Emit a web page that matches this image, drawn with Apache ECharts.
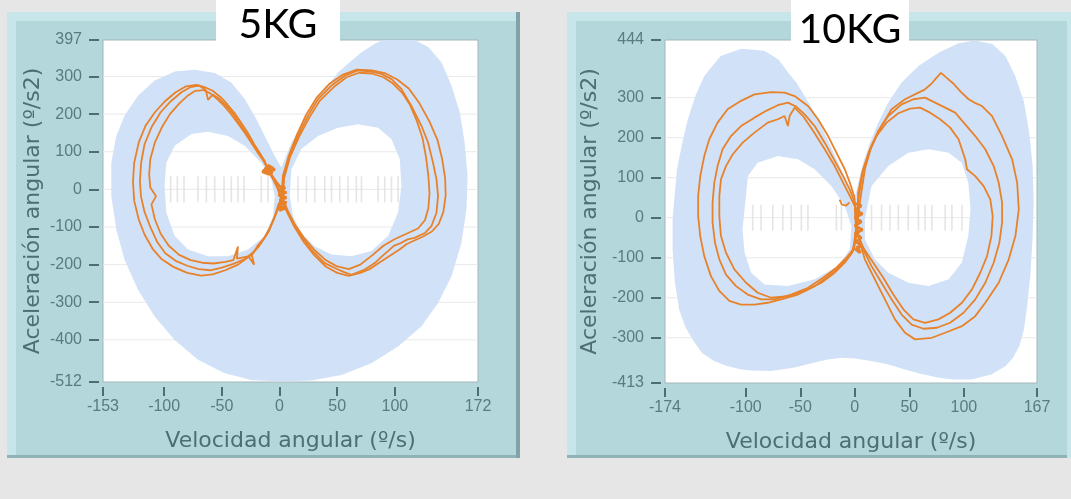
<!DOCTYPE html>
<html><head><meta charset="utf-8">
<script src="https://cdn.jsdelivr.net/npm/echarts@6/dist/echarts.min.js"></script>
<style>html,body{margin:0;padding:0;background:#e6e6e6;}#c{width:1071px;height:499px;}</style>
</head><body><div id="c"></div>
<script>
// ---------- ticks ----------
const kg5XTicks = [-153, -100, -50, 0, 50, 100, 172];
const kg5YTicks = [397, 300, 200, 100, 0, -100, -200, -300, -400, -512];
const kg10XTicks = [-174, -100, -50, 0, 50, 100, 167];
const kg10YTicks = [444, 300, 200, 100, 0, -100, -200, -300, -413];

// ---------- 5KG : reference band (outer contour + two holes) ----------
const kg5BandOuter = [[1.6,58],[4.5,80],[10.3,124],[16,151],[21.8,187],[30.5,231],[42,276],[50.7,311],[62.3,342],[70.9,364],[82.5,387],[89.7,397],[117,397],[128.8,378],[140.3,338],[149,276],[156.2,204],[160.5,124],[163,36],[162,-53],[157.7,-142],[149,-231],[137.4,-302],[123,-364],[102.7,-418],[79.6,-462],[53.6,-493],[27.6,-508],[1.6,-511],[-24.4,-507],[-47.5,-489],[-70.7,-453],[-90.9,-400],[-108.2,-338],[-122.7,-267],[-134.3,-187],[-141.5,-107],[-145.8,-18],[-145.8,71],[-141.5,142],[-134.3,196],[-122.7,249],[-108.2,289],[-90.9,313],[-73.6,318],[-56.2,309],[-41.8,284],[-30.2,240],[-20.1,187],[-11.4,133],[-4.2,89]];
const kg5HoleLeft = [[-99.6,9],[-98.1,71],[-90.9,116],[-76.4,147],[-62,153],[-44.7,142],[-30.2,116],[-15.8,71],[-7.1,27],[-4.2,-18],[-5.6,-71],[-12.9,-124],[-27.3,-160],[-44.7,-178],[-62,-178],[-79.3,-160],[-90.9,-124],[-98.1,-62]];
const kg5HoleRight = [[8.8,-18],[10.3,53],[18.9,107],[33.4,142],[50.7,164],[68,173],[85.4,164],[97,133],[104.2,80],[105.6,9],[102.7,-62],[94.1,-124],[79.6,-164],[62.3,-178],[45,-173],[30.5,-151],[18.9,-116],[11.7,-71]];
const kg5Ruler = [-94.4,-88.6,-82.8,-70.7,-63.4,-56.2,-48.1,-41.8,-36,-30.8,-15.8,-10,16,23.3,30.5,39.2,45,52.2,59.4,66.6,71,85.4,91.2,97,102.7];

// ---------- 5KG : measured trajectories ----------
const kg5TraceA = [[2,-28],[3,35],[8,90],[15,145],[23,198],[32,243],[43,280],[55,305],[67,318],[80,316],[92,308],[102,292],[112,268],[121,230],[130,180],[137,130],[141,80],[143.5,30],[144,-15],[142,-60],[138,-92],[132,-112],[124,-126],[114,-140],[110,-146],[104,-160],[95,-178],[86,-196],[78,-212],[70,-222],[60,-230],[50,-222],[40,-205],[30,-175],[21,-140],[13,-100],[6,-58],[2,-28],[0,-40],[-5,-80],[-11,-120],[-18,-152],[-26,-178],[-36,-200],[-47,-215],[-58,-226],[-68,-229],[-80,-222],[-92,-206],[-102,-186],[-110,-158],[-117,-120],[-122,-80],[-126,-30],[-127,20],[-126,70],[-122,125],[-116,170],[-108,205],[-99,235],[-90,258],[-81,274],[-72,278],[-65,272],[-58,262],[-51,245],[-45,225],[-39,203],[-33,176],[-27,148],[-22,120],[-17,96],[-13,74],[-10,52],[-5,25],[0,-5],[2,-28]];
const kg5TraceB = [[1.6,-27],[3,36],[8.8,89],[16,142],[24.7,196],[33.4,240],[45,276],[56.5,302],[68,316],[79.6,313],[88.3,307],[97,293],[105.6,267],[114.3,222],[123,169],[128.8,124],[133,71],[136,27],[137.4,-18],[136,-62],[131.6,-98],[125.9,-116],[117,-129],[111,-133],[105.6,-142],[99,-150],[94,-164],[88,-180],[82.5,-196],[73.8,-213],[62.3,-227],[56,-220],[50.7,-213],[39.2,-196],[27.6,-160],[18.9,-124],[11.7,-89],[5.9,-53],[1.6,-27],[-1,-40],[-4,-70],[-9,-110],[-16,-142],[-22,-165],[-30,-185],[-40,-198],[-50,-208],[-60,-215],[-70,-212],[-80,-203],[-90,-190],[-99,-170],[-106,-140],[-112,-100],[-117,-60],[-120,-20],[-121,20],[-120,70],[-117,120],[-111,165],[-103,205],[-94,235],[-85,258],[-77,272],[-70,276],[-64,265],[-62,238],[-58,252],[-52,240],[-46,222],[-40,200],[-34,172],[-28,145],[-22,117],[-17,95],[-13,76],[-10,55],[-6,30],[-2,5],[1.6,-27]];
const kg5TraceC = [[3,-25],[4,30],[9,85],[17,140],[26,192],[35,236],[47,272],[58,298],[69,310],[80,308],[90,298],[98,282],[106,258],[113,225],[119,182],[124,135],[127,85],[129,35],[130,-10],[129,-50],[126,-82],[120,-104],[110,-118],[100,-132],[90,-150],[80,-176],[70,-200],[60,-212],[50,-205],[40,-188],[30,-160],[21,-128],[13,-92],[7,-56],[3,-25],[1,-30],[-3,-65],[-8,-100],[-13,-128],[-19,-150],[-24,-175],[-22,-200],[-27,-178],[-37,-184],[-36,-152],[-40,-188],[-47,-193],[-57,-197],[-67,-195],[-77,-188],[-87,-174],[-96,-150],[-103,-118],[-108,-80],[-111,-40],[-107,-18],[-112,5],[-113,40],[-112,80],[-108,125],[-102,165],[-95,200],[-87,228],[-80,248],[-73,262],[-66,264],[-60,255],[-54,240],[-48,222],[-42,200],[-36,175],[-30,150],[-24,122],[-19,98],[-14,76],[-10,54],[-6,32],[-2,8],[1,-20],[3,-25]];
const kg5Knot = [[-13,58],[-6,44],[-12,44],[-7,62],[-14,50],[-4,52],[-10,64],[-9,40],[-15,47],[-5,58],[-10,50],[-3,20],[0,8],[5,4],[-1,-2],[6,-8],[-1,-15],[6,-22],[0,-28],[6,-35],[-1,-42],[5,-50],[0,-56],[4,-8],[1,6]];

// ---------- 10KG : reference band ----------
const kg10BandOuter = [[-0.6,42],[3.1,87.5],[7.7,137.5],[13.8,187.5],[21.5,237.5],[30.7,287.5],[42.9,337.5],[58.3,379],[76.7,412],[95,436],[110,443],[126,434],[138,404],[147,354],[155,290],[160,210],[163,130],[164,40],[163,-50],[161,-140],[158,-220],[155,-280],[151,-320],[145,-350],[138,-371],[125,-392],[107,-404],[90,-404],[77,-400],[60,-390],[46,-379],[30,-366],[15,-358],[0,-352],[-12,-350],[-25,-354],[-37,-362],[-55,-374],[-77,-383],[-95,-382],[-104,-379],[-118,-370],[-129,-358],[-140,-338],[-147,-312],[-155,-275],[-161,-230],[-165,-160],[-167,-80],[-167,0],[-165,60],[-163,121],[-158,190],[-153,246],[-146,305],[-138,354],[-123,404],[-104,422],[-83,417],[-70,395],[-61,362],[-53,335],[-46,304],[-38,268],[-31,229],[-24,190],[-18,154],[-12,118],[-8,87.5],[-1.5,46]];
const kg10HoleLeft = [[-101,21],[-98,104],[-89,137.5],[-70.6,154],[-52,146],[-36.8,121],[-21.5,79],[-9.2,29],[-3.1,-21],[-4.6,-79],[-15.3,-121],[-36.8,-154],[-61.3,-171],[-82.8,-167],[-95,-137.5],[-101,-87.5],[-103,-29]];
const kg10HoleRight = [[9.2,-4],[15.3,79],[30.7,129],[49,162.5],[67.5,171],[86,162.5],[98,137.5],[104,87.5],[106,21],[104,-46],[98,-112.5],[86,-154],[67.5,-171],[49,-162.5],[30.7,-137.5],[18.4,-104],[9.2,-54]];
const kg10Ruler = [-93.6,-85.9,-75.2,-66,-58.3,-49,-43,-16.9,-12.3,15.3,24.5,32.2,39.9,49,58.3,64.4,70.6,82.8,89,98.2];

// ---------- 10KG : measured trajectories ----------
const kg10TraceA = [[2,-20],[4.6,37.5],[9.2,121],[15.3,179],[24.5,229],[33.7,271],[46,296],[58.3,312.5],[64,320],[70,334],[74,347],[79,362],[84,350],[90,336],[97,315],[104.3,296],[110,287],[116.6,279],[125.8,254],[135,204],[144.2,146],[148.8,87.5],[150.3,21],[147.2,-46],[141.1,-104],[131.9,-162.5],[119.6,-212.5],[110.4,-246],[98.2,-271],[82.8,-287.5],[70.6,-300],[55.2,-304],[46,-287.5],[36.8,-254],[27.6,-204],[18.4,-154],[9.2,-104],[4.6,-62.5],[2,-20],[-0.6,54],[-4.6,87.5],[-9.2,121],[-16.9,162.5],[-24.5,204],[-33.7,246],[-42.9,279],[-55.2,304],[-64.4,312.5],[-76.7,314],[-92,308],[-104.3,292],[-116.6,271],[-125.8,237.5],[-133.4,196],[-138,154],[-141.7,104],[-143.6,54],[-143.6,4],[-141.7,-46],[-138,-96],[-131.9,-146],[-124.2,-183],[-115,-208],[-104.3,-217],[-92,-217],[-79.8,-212.5],[-67.5,-204],[-52.1,-192],[-36.8,-171],[-24.5,-146],[-13.8,-121],[-6.1,-100],[-0.6,-79],[2,-20]];
const kg10TraceB = [[1,-30],[3.7,54],[7.7,121],[13.8,171],[21.5,217],[30.7,254],[42.9,283],[53.7,296],[64.4,300],[73.6,287.5],[82.8,275],[92,262.5],[101.2,233],[110.4,204],[119.6,171],[127.3,129],[131.9,87.5],[135,37.5],[135,-12.5],[132.5,-62.5],[127.3,-112.5],[119.6,-162.5],[110.4,-204],[99.7,-237.5],[87.4,-262.5],[75.2,-275],[62.9,-277.5],[52.1,-267],[42.9,-242],[33.7,-204],[24.5,-162.5],[15.3,-121],[7.7,-79],[1,-30],[0,37.5],[-4.6,70],[-10.7,104],[-18.4,142],[-27.6,187.5],[-36.8,229],[-46,258],[-53.7,277.5],[-61.3,287.5],[-70.6,281],[-81.3,267],[-92,250],[-104.3,229],[-113.5,204],[-121.2,171],[-125.8,129],[-128.8,87.5],[-130.4,37.5],[-130.4,-12.5],[-128.2,-62.5],[-124.2,-104],[-118.1,-142],[-108.9,-171],[-98.2,-192],[-85.9,-204],[-73.6,-204],[-58.3,-192],[-42.9,-175],[-29.1,-150],[-16.9,-125],[-7.7,-100],[-1.5,-79],[1,-30]];
const kg10TraceC = [[2,-40],[3.1,62.5],[6.7,112.5],[12.3,158],[19.9,204],[29.1,237.5],[39.9,261],[50.6,272.5],[59.8,275],[69,262.5],[78.2,246],[87.4,225],[95.1,196],[101.2,146],[102.8,121],[110.4,104],[118.1,79],[124.2,46],[126.4,4],[125.2,-46],[121.2,-96],[115,-137.5],[107.4,-179],[98.2,-212.5],[87.4,-237.5],[76.7,-254],[64.4,-262.5],[53.7,-254],[44.5,-229],[35.3,-192],[26.1,-150],[16.9,-112.5],[8.6,-79],[2,-40],[0,29],[-6.1,62.5],[-12.3,96],[-18.4,129],[-27.6,171],[-38.3,217],[-47.5,254],[-55.2,275],[-59.8,254],[-61.3,229],[-64.4,254],[-70.6,246],[-79.8,237.5],[-92,212.5],[-102.8,187.5],[-112,158],[-118.1,129],[-122.7,96],[-124.2,54],[-124.2,4],[-122.7,-46],[-118.1,-87.5],[-110.4,-129],[-99.7,-162.5],[-89,-187.5],[-76.7,-200],[-61.3,-196],[-46,-183],[-30.7,-162.5],[-18.4,-137.5],[-9.2,-112.5],[-2.5,-87.5],[2,-40]];
const kg10Knot = [[0,35],[6,30],[0,20],[7,10],[0,0],[6,-10],[0,-20],[7,-30],[0,-40],[6,-50],[1,-60],[6,-70],[1,-80],[5,-88],[2,-70]];
const kg10Hook = [[-14,45],[-12,33],[-8,30],[-5,38]];

// ---------- styles ----------
const BLUE = '#d1e2f8';
const ORANGE = '#e8822a';
const LABEL = '#587a80';
const TICK = '#4e6c71';
const TITLE = '#4d6e74';

const chart = echarts.init(document.getElementById('c'), null, {renderer: 'canvas'});

function bandSeries(idx, outer, holes) {
  return {
    type: 'custom', xAxisIndex: idx, yAxisIndex: idx, z: 2, silent: true, clip: true,
    data: [outer[0]],
    renderItem: function (params, api) {
      function ring(pts, wantPositive) {
        const px = pts.map(p => api.coord(p));
        let a = 0;
        for (let i = 0; i < px.length; i++) {
          const p = px[i], q = px[(i + 1) % px.length];
          a += p[0] * q[1] - q[0] * p[1];
        }
        if ((a > 0) !== wantPositive) px.reverse();
        return 'M' + px.map(p => p[0].toFixed(1) + ' ' + p[1].toFixed(1)).join(' L') + ' Z';
      }
      let d = ring(outer, true);
      holes.forEach(h => { d += ' ' + ring(h, false); });
      return {type: 'path', shape: {pathData: d}, style: {fill: BLUE}};
    }
  };
}
function gridLines(idx, yTicks, xTicks) {
  const x0 = xTicks[0], x1 = xTicks[xTicks.length - 1];
  return {
    type: 'custom', xAxisIndex: idx, yAxisIndex: idx, z: 1, silent: true,
    data: yTicks.slice(1, -1).map(v => [x0, v]),
    renderItem: function (params, api) {
      const a = api.coord([x0, api.value(1)]);
      const b = api.coord([x1, api.value(1)]);
      return {type: 'line', shape: {x1: a[0], y1: a[1], x2: b[0], y2: b[1]}, style: {stroke: '#e9e9e9', lineWidth: 1}};
    }
  };
}
function ruler(idx, xs) {
  return {type: 'scatter', xAxisIndex: idx, yAxisIndex: idx, z: 1, silent: true,
    symbol: 'rect', symbolSize: [1.6, 26], itemStyle: {color: '#dedede'},
    data: xs.map(x => [x, 0])};
}
function trace(idx, data, w) {
  return {type: 'line', xAxisIndex: idx, yAxisIndex: idx, z: 3, silent: true,
    showSymbol: false, symbol: 'none', smooth: false,
    lineStyle: {color: ORANGE, width: w || 1.8}, data: data};
}
function xAx(idx, ticks) {
  return {gridIndex: idx, type: 'value', min: ticks[0], max: ticks[ticks.length - 1], offset: 5,
    axisLine: {show: false, onZero: false},
    axisTick: {show: true, customValues: ticks, length: 9, lineStyle: {color: TICK, width: 2}},
    axisLabel: {customValues: ticks, color: LABEL, fontSize: 16, fontFamily: 'Liberation Sans', margin: 12},
    splitLine: {show: false},
    name: 'Velocidad angular (º/s)', nameLocation: 'middle', nameGap: 43,
    nameTextStyle: {fontSize: 22, fontFamily: 'DejaVu Sans', color: TITLE}};
}
function yAx(idx, ticks, gap) {
  return {gridIndex: idx, type: 'value', min: ticks[ticks.length - 1], max: ticks[0], offset: 4,
    axisLine: {show: false, onZero: false},
    axisTick: {show: true, customValues: ticks, length: 10, lineStyle: {color: TICK, width: 2}},
    axisLabel: {customValues: ticks, color: LABEL, fontSize: 16, fontFamily: 'Liberation Sans', margin: 17},
    splitLine: {show: false},
    name: 'Aceleración angular (º/s2)', nameLocation: 'middle', nameGap: gap,
    nameTextStyle: {fontSize: 22, fontFamily: 'DejaVu Sans', color: TITLE}};
}
function panel(x, w, darkRight) {
  const els = [
    {type: 'rect', z: -10, shape: {x: x, y: 12, width: w, height: 446}, style: {fill: '#b4d7dc'}},
    {type: 'rect', z: -9, shape: {x: x, y: 12, width: w, height: 9}, style: {fill: '#c7e6ea'}},
    {type: 'rect', z: -9, shape: {x: x, y: 12, width: 9, height: 446}, style: {fill: '#c7e6ea'}},
    {type: 'rect', z: -9, shape: {x: x, y: 455, width: w, height: 3}, style: {fill: '#8fb2b7'}}
  ];
  if (darkRight) els.push({type: 'rect', z: -8, shape: {x: x + w - 4, y: 12, width: 4, height: 446}, style: {fill: '#7fa3a8'}});
  else els.push({type: 'rect', z: -8, shape: {x: x + w - 4, y: 12, width: 4, height: 446}, style: {fill: '#c7e6ea'}});
  return els;
}
function titleBox(text, x, w, cx, cy) {
  return [
    {type: 'rect', z: 100, shape: {x: x, y: 0, width: w, height: 41}, style: {fill: '#ffffff'}},
    {type: 'text', z: 101, style: {text: text, x: cx, y: cy, align: 'center', verticalAlign: 'middle',
      textAlign: 'center', textVerticalAlign: 'middle', fontSize: 41, fontFamily: 'Lato', fill: '#000'}}
  ];
}

chart.setOption({
  animation: false,
  backgroundColor: '#e6e6e6',
  graphic: [].concat(panel(7, 513, true), panel(567, 504, false),
    titleBox('5KG', 216, 124, 278, 25), titleBox('10KG', 791, 118, 850, 30)),
  grid: [
    {left: 103, top: 40, width: 375, height: 342, show: true, backgroundColor: '#ffffff', borderColor: '#a3b5b8', borderWidth: 1},
    {left: 665, top: 40, width: 372, height: 343, show: true, backgroundColor: '#ffffff', borderColor: '#a3b5b8', borderWidth: 1}
  ],
  xAxis: [xAx(0, kg5XTicks), xAx(1, kg10XTicks)],
  yAxis: [yAx(0, kg5YTicks, 55), yAx(1, kg10YTicks, 60)],
  series: [
    gridLines(0, kg5YTicks, kg5XTicks),
    ruler(0, kg5Ruler),
    bandSeries(0, kg5BandOuter, [kg5HoleLeft, kg5HoleRight]),
    trace(0, kg5TraceA), trace(0, kg5TraceB), trace(0, kg5TraceC), trace(0, kg5Knot, 2.8),
    gridLines(1, kg10YTicks, kg10XTicks),
    ruler(1, kg10Ruler),
    bandSeries(1, kg10BandOuter, [kg10HoleLeft, kg10HoleRight]),
    trace(1, kg10TraceA), trace(1, kg10TraceB), trace(1, kg10TraceC), trace(1, kg10Knot, 2.8), trace(1, kg10Hook)
  ]
});
</script>
</body></html>
